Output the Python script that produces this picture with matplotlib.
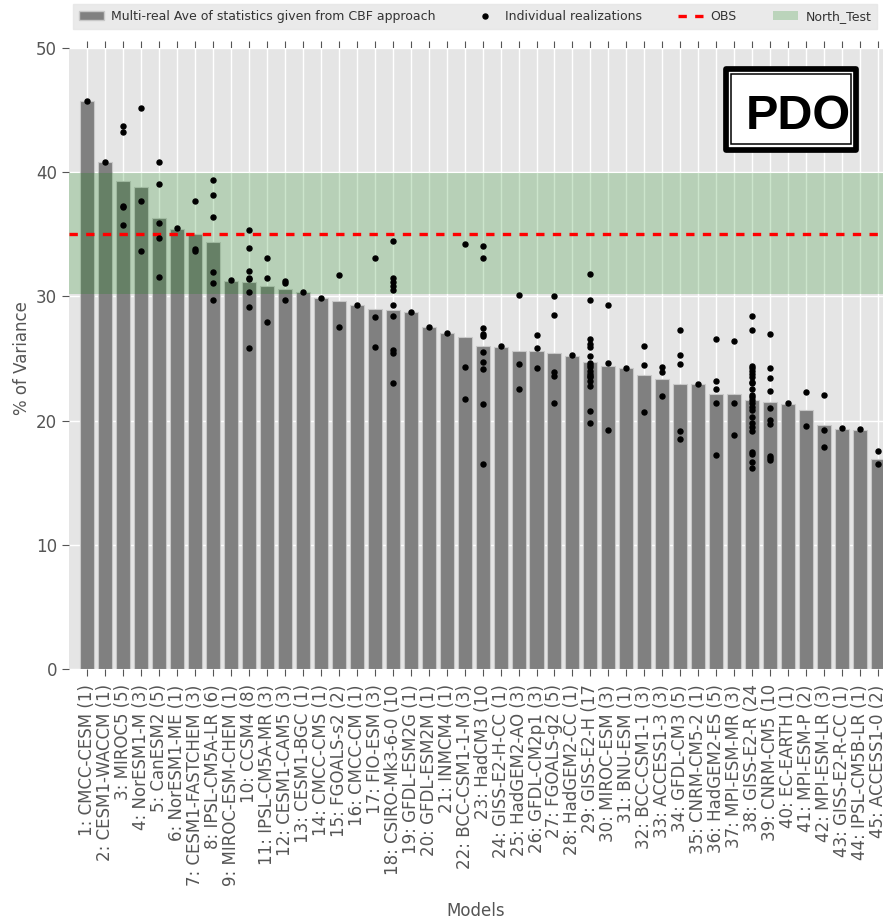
import numpy as np
import matplotlib
matplotlib.use("Agg")
import matplotlib.pyplot as plt
from matplotlib.patches import Patch, Rectangle
from matplotlib.lines import Line2D

# ---- data -------------------------------------------------------------
tick_labels = [
    "1: CMCC-CESM (1)", "2: CESM1-WACCM (1)", "3: MIROC5 (5)", "4: NorESM1-M (3)",
    "5: CanESM2 (5)", "6: NorESM1-ME (1)", "7: CESM1-FASTCHEM (3)", "8: IPSL-CM5A-LR (6)",
    "9: MIROC-ESM-CHEM (1)", "10: CCSM4 (8)", "11: IPSL-CM5A-MR (3)", "12: CESM1-CAM5 (3)",
    "13: CESM1-BGC (1)", "14: CMCC-CMS (1)", "15: FGOALS-s2 (2)", "16: CMCC-CM (1)",
    "17: FIO-ESM (3)", "18: CSIRO-Mk3-6-0 (10", "19: GFDL-ESM2G (1)", "20: GFDL-ESM2M (1)",
    "21: INMCM4 (1)", "22: BCC-CSM1-1-M (3)", "23: HadCM3 (10", "24: GISS-E2-H-CC (1)",
    "25: HadGEM2-AO (3)", "26: GFDL-CM2p1 (3)", "27: FGOALS-g2 (5)", "28: HadGEM2-CC (1)",
    "29: GISS-E2-H (17", "30: MIROC-ESM (3)", "31: BNU-ESM (1)", "32: BCC-CSM1-1 (3)",
    "33: ACCESS1-3 (3)", "34: GFDL-CM3 (5)", "35: CNRM-CM5-2 (1)", "36: HadGEM2-ES (5)",
    "37: MPI-ESM-MR (3)", "38: GISS-E2-R (24", "39: CNRM-CM5 (10", "40: EC-EARTH (1)",
    "41: MPI-ESM-P (2)", "42: MPI-ESM-LR (3)", "43: GISS-E2-R-CC (1)", "44: IPSL-CM5B-LR (1)",
    "45: ACCESS1-0 (2)",
]

# multi-realization average (% of variance) per model
model_mean = [
    45.70, 40.80, 39.30, 38.80, 36.35, 35.45, 35.00, 34.40, 31.27, 31.16,
    30.80, 30.63, 30.33, 29.85, 29.60, 29.30, 29.02, 28.90, 28.72, 27.54,
    27.03, 26.77, 25.98, 25.95, 25.60, 25.60, 25.45, 25.22, 24.70, 24.38,
    24.20, 23.70, 23.33, 22.93, 22.93, 22.16, 22.14, 21.66, 21.53, 21.37,
    20.86, 19.68, 19.36, 19.26, 16.94,
]

# individual realizations per model
realizations = [
    [45.76],
    [40.85],
    [43.75, 43.20, 37.30, 37.17, 35.72],
    [45.17, 37.68, 33.68],
    [40.85, 39.05, 35.91, 34.70, 31.56],
    [35.48],
    [37.68, 33.80, 33.62],
    [39.40, 38.19, 36.42, 31.99, 31.05, 29.68],
    [31.29],
    [35.37, 33.92, 32.07, 31.45, 31.40, 30.35, 29.17, 25.85],
    [33.09, 31.45, 27.97],
    [31.21, 31.05, 29.68],
    [30.35],
    [29.87],
    [31.72, 27.56],
    [29.33],
    [33.09, 28.32, 25.93],
    [34.46, 31.48, 31.13, 30.85, 30.55, 29.33, 28.40, 25.68, 25.45, 23.05],
    [28.74],
    [27.56],
    [27.05],
    [34.19, 24.32, 21.77],
    [34.03, 33.09, 27.48, 26.97, 26.81, 25.52, 24.69, 24.15, 21.36, 16.51],
    [26.03],
    [30.11, 24.58, 22.54],
    [26.89, 25.85, 24.24],
    [30.03, 28.50, 23.91, 23.57, 21.44],
    [25.26],
    [31.83, 29.68, 26.55, 26.14, 25.93, 25.18, 24.66, 24.50, 24.34, 24.00,
     23.72, 23.60, 23.54, 23.21, 22.79, 20.75, 19.81],
    [29.33, 24.66, 19.22],
    [24.23],
    [26.03, 24.50, 20.67],
    [24.34, 23.91, 21.96],
    [27.32, 25.26, 24.58, 19.14, 18.54],
    [22.97],
    [26.55, 23.21, 22.54, 21.42, 17.26],
    [26.38, 21.44, 18.81],
    [28.42, 27.29, 24.42, 24.21, 23.99, 23.75, 23.48, 23.08, 23.00, 22.52,
     22.06, 21.87, 21.66, 21.39, 21.12, 20.85, 20.27, 19.83, 19.51, 19.19,
     17.50, 17.31, 16.64, 16.16],
    [26.96, 24.23, 23.46, 22.38, 20.99, 20.07, 19.70, 17.15, 16.96, 16.80],
    [21.42],
    [22.28, 19.57],
    [22.04, 19.22, 17.87],
    [19.40],
    [19.32],
    [17.53, 16.51],
]

obs_value = 35.05
north_low, north_high = 30.2, 39.9

# ---- style ------------------------------------------------------------
plt.rcParams["font.family"] = ["DejaVu Sans"]
plt.rcParams["lines.scale_dashes"] = False

W, H = 883, 921
fig = plt.figure(figsize=(W / 100, H / 100), dpi=100)
fig.patch.set_facecolor("white")

ax = fig.add_axes([69 / W, 1 - 669 / H, (W - 69) / W, 621 / H])
ax.set_facecolor("#E5E5E5")
for sp in ax.spines.values():
    sp.set_visible(False)
ax.set_axisbelow(True)
ax.grid(True, color="white", lw=1.0)

xpos = np.arange(1, len(model_mean) + 1)
ax.bar(xpos, model_mean, width=0.78, color="#808080", edgecolor="#C8C8C8",
       linewidth=0.8, zorder=2)

for xi, vals in zip(xpos, realizations):
    ax.plot([xi] * len(vals), vals, "o", color="black", ms=3.6, mec="black", zorder=6)

ax.axhspan(north_low, north_high, color="green", alpha=0.2, lw=0, zorder=3)
ax.axhline(obs_value, color="red", linestyle="--", dashes=(6, 6), lw=2.4, zorder=5)

ax.set_xlim(0, 45.27)
ax.set_ylim(0, 50)
ax.set_yticks(np.arange(0, 51, 10))
ax.set_xticks(xpos)
ax.set_xticklabels(tick_labels, rotation=90)

ax.tick_params(axis="x", direction="out", top=True, bottom=True, length=5, pad=6,
               color="#555555", labelsize=12, labelcolor="#555555")
ax.tick_params(axis="y", direction="out", left=True, right=False, length=5,
               color="#555555", labelsize=12, labelcolor="#555555")

ax.set_xlabel("Models", fontsize=12, color="#555555")
ax.xaxis.set_label_coords(0.5, -0.376)
ax.set_ylabel("% of Variance", fontsize=12, color="#555555")

# ---- legend across the top ------------------------------------------
handles = [
    Patch(facecolor="#808080", edgecolor="#C8C8C8"),
    Line2D([], [], marker="o", ls="none", color="black", ms=3.6),
    Line2D([], [], color="red", ls="--", dashes=(6, 6), lw=2.4),
    Patch(facecolor="green", alpha=0.2, edgecolor="none"),
]
labels = ["Multi-real Ave of statistics given from CBF approach",
          "Individual realizations", "OBS", "North_Test"]
leg = fig.legend(handles, labels, loc="center", bbox_to_anchor=(475 / W, 1 - 16.5 / H),
                 ncol=4, fontsize=9, frameon=True, fancybox=False, numpoints=1,
                 columnspacing=2.9, handletextpad=0.6, handlelength=2.0,
                 borderpad=0.5)
leg.get_frame().set_facecolor("#E5E5E5")
leg.get_frame().set_edgecolor("#E5E5E5")
for t in leg.get_texts():
    t.set_color("#333333")

# ---- index name box ---------------------------------------------------
def fig_rect(x0, y0, x1, y1, **kw):
    return Rectangle((x0 / W, 1 - y1 / H), (x1 - x0) / W, (y1 - y0) / H,
                     transform=fig.transFigure, **kw)

fig.add_artist(fig_rect(725.5, 69.0, 856.3, 149.7, facecolor="white",
                        edgecolor="black", lw=4.1, joinstyle="round", zorder=10))
fig.add_artist(fig_rect(731.0, 74.2, 851.0, 144.3, facecolor="none",
                        edgecolor="black", lw=1.1, zorder=11))
fig.text(798 / W, 1 - 129 / H, "PDO", ha="center", va="baseline",
         fontsize=35, fontweight="bold", family=["Liberation Sans", "DejaVu Sans"],
         zorder=12)

fig.savefig("out.png", dpi=100)
